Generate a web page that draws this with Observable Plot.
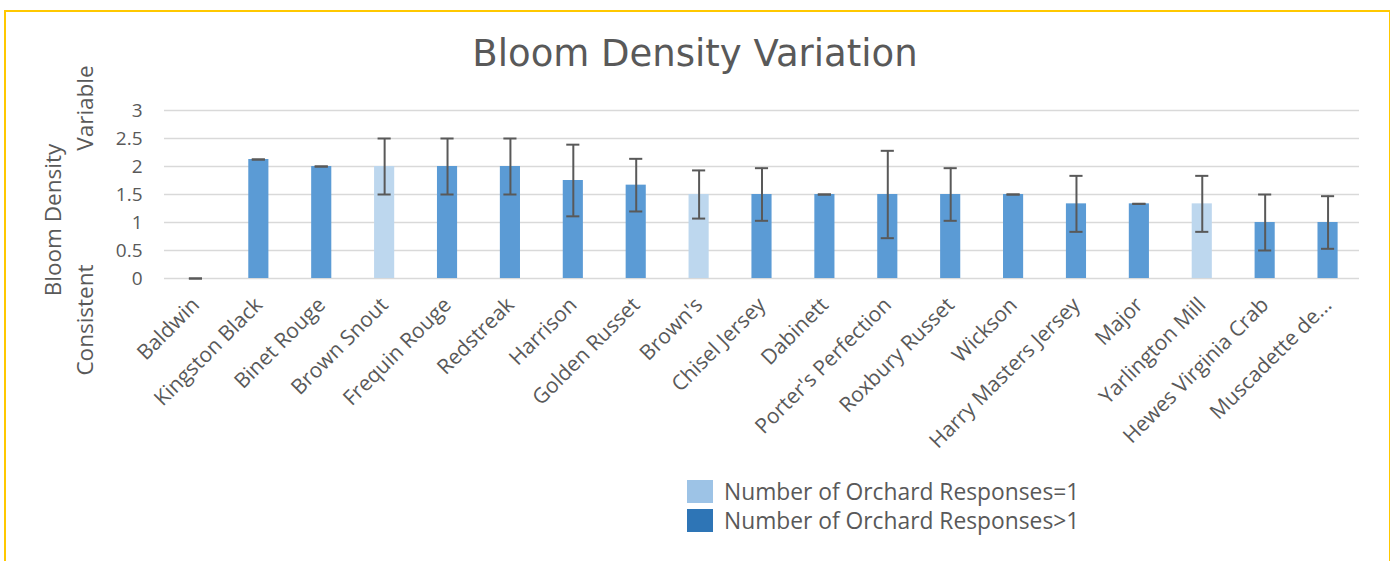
<!DOCTYPE html>
<html><head><meta charset="utf-8">
<script src="https://cdn.jsdelivr.net/npm/d3@7"></script>
<script src="https://cdn.jsdelivr.net/npm/@observablehq/plot@0.6"></script>
<style>
body{margin:0;background:#fff;}
#wrap{position:relative;width:1390px;height:561px;overflow:hidden;font-family:"Open Sans",sans-serif;color:#595959;background:#fff}
#frame{position:absolute;left:4px;top:10px;width:1387px;height:600px;border:2px solid #FFC800;box-sizing:border-box;pointer-events:none}
#chart{position:absolute;left:0;top:0}
#title{position:absolute;left:0;width:1390px;top:34px;text-align:center;font-family:"DejaVu Sans",Verdana,sans-serif;font-size:37px;line-height:40px;color:#595959}
.ylab{position:absolute;font-size:22.5px;line-height:26px;white-space:nowrap;transform:translate(-50%,-50%) rotate(-90deg);color:#595959}
#legend{position:absolute;left:687px;top:477px;font-size:22.8px;color:#595959}
.li{display:flex;align-items:center;height:29px}
.sw{width:26px;height:23px;margin-right:11px}
</style>
</head><body>
<div id="wrap">
  <div id="chart"></div>
  <div id="title">Bloom Density Variation</div>
  <div class="ylab" style="left:53px;top:220px">Bloom Density</div>
  <div class="ylab" style="left:85px;top:108px">Variable</div>
  <div class="ylab" style="left:85px;top:320px">Consistent</div>
  <div id="legend"></div>
  <div id="frame"></div>
</div>
<script>
const varieties = ["Baldwin","Kingston Black","Binet Rouge","Brown Snout","Frequin Rouge","Redstreak","Harrison","Golden Russet","Brown's","Chisel Jersey","Dabinett","Porter's Perfection","Roxbury Russet","Wickson","Harry Masters Jersey","Major","Yarlington Mill","Hewes Virginia Crab","Muscadette de..."];
const means = [0, 2.125, 2, 2, 2, 2, 1.75, 1.667, 1.5, 1.5, 1.5, 1.5, 1.5, 1.5, 1.333, 1.333, 1.333, 1, 1];
const errors = [0, 0, 0, 0.5, 0.5, 0.5, 0.64, 0.47, 0.43, 0.47, 0, 0.78, 0.47, 0, 0.5, 0, 0.5, 0.5, 0.47];
const responses = [">1",">1",">1","=1",">1",">1",">1",">1","=1",">1",">1",">1",">1",">1",">1",">1","=1",">1",">1"];
const yTicks = [0, 0.5, 1, 1.5, 2, 2.5, 3];
const seriesNames = ["Number of Orchard Responses=1", "Number of Orchard Responses>1"];
const barColors = ["#BDD7EE", "#5B9BD5"];
const legendColors = ["#9DC3E6", "#2E75B6"];

const data = varieties.map((v, i) => ({
  name: v, mean: means[i], err: errors[i], resp: responses[i],
  lo: means[i] - errors[i], hi: means[i] + errors[i]
}));

const plot = Plot.plot({
  width: 1390,
  height: 561,
  marginLeft: 164,
  marginRight: 31,
  marginTop: 110,
  marginBottom: 283,
  style: {fontFamily: '"Open Sans", sans-serif', color: "#595959", background: "transparent", overflow: "visible"},
  x: {domain: varieties, paddingInner: 0.68, paddingOuter: 0.34, round: false, label: null},
  y: {domain: [0, 3], label: null},
  color: {domain: [">1", "=1"], range: [barColors[1], barColors[0]]},
  marks: [
    Plot.gridY(yTicks, {stroke: "#D9D9D9", strokeOpacity: 1, strokeWidth: 1.5}),
    Plot.barY(data, {x: "name", y: "mean", fill: "resp"}),
    Plot.ruleX(data, {x: "name", y1: "lo", y2: "hi", stroke: "#595959", strokeWidth: 2}),
    Plot.tickY(data, {x: "name", y: "hi", stroke: "#595959", strokeWidth: 2, insetLeft: 3.5, insetRight: 3.5}),
    Plot.tickY(data, {x: "name", y: "lo", stroke: "#595959", strokeWidth: 2, insetLeft: 3.5, insetRight: 3.5}),
    Plot.axisY({ticks: yTicks, tickSize: 0, tickPadding: 22, fontSize: 19, tickFormat: d => String(d), fill: "#595959"}),
    Plot.axisX({tickSize: 0, tickRotate: -45, tickPadding: 23, fontSize: 21, fill: "#595959"})
  ]
});
document.getElementById("chart").appendChild(plot);

const legend = document.getElementById("legend");
seriesNames.forEach((n, i) => {
  const row = document.createElement("div");
  row.className = "li";
  const sw = document.createElement("div");
  sw.className = "sw";
  sw.style.background = legendColors[i];
  const t = document.createElement("span");
  t.textContent = n;
  row.appendChild(sw); row.appendChild(t);
  legend.appendChild(row);
});
</script>
</body></html>
